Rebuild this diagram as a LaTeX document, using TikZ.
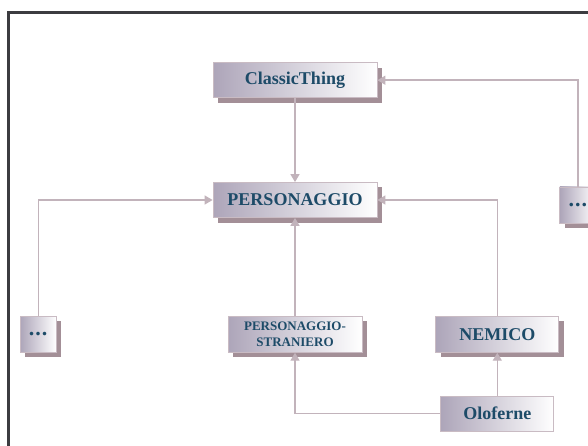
\documentclass[tikz,border=0pt]{standalone}
\usepackage{fontspec}
\setmainfont{Liberation Serif}
\usetikzlibrary{positioning, arrows.meta, shadows}
\definecolor{colFrame}{HTML}{3C3C40}
\definecolor{colBoxLeft}{HTML}{ADA5B9}
\definecolor{colBoxEdge}{HTML}{C9BBC3}
\definecolor{colShadow}{HTML}{A38F97}
\definecolor{colLink}{HTML}{C2B3BB}
\definecolor{colText}{HTML}{1D4B68}

\begin{document}
\begin{tikzpicture}[
    x=1pt, y=1pt,
    >={Triangle[length=8pt, width=9pt]},
    node distance=40pt,
    cls/.style={draw=colBoxEdge, line width=0.8pt, left color=colBoxLeft, right color=white,
                inner sep=0pt, minimum height=36pt, align=center, text=colText,
                font=\fontsize{18}{20}\selectfont\bfseries},
    shadowed/.style={cls, drop shadow={shadow xshift=5pt, shadow yshift=-5pt,
                     fill=colShadow, opacity=1}},
    dots/.style={shadowed, minimum width=36pt, font=\fontsize{22}{22}\selectfont\bfseries},
    link/.style={->, draw=colLink, line width=1.4pt},
]
\clip (0,0) rectangle (588,-446);

% ---- Frame -------------------------------------------------------------------
\draw[colFrame, line width=2.5pt] (8.5,-450) -- (8.5,-12.5) -- (600,-12.5);

% ---- Classes -----------------------------------------------------------------
\node[shadowed, minimum width=164pt, minimum height=35pt] (pers) at (295,-200) {PERSONAGGIO};
\node[shadowed, minimum width=164pt, minimum height=35pt, above=84pt of pers] (classic) {ClassicThing};
\node[shadowed, minimum width=134pt, below=98pt of pers,
      font=\fontsize{13}{16}\selectfont\bfseries] (straniero) {PERSONAGGIO-\\STRANIERO};
\node[dots, left=171pt of straniero] (ldots) {.\kern1pt.\kern1pt.};
\node[shadowed, minimum width=123pt, right=73pt of straniero] (nemico) {NEMICO};
\node[cls, minimum width=113pt, minimum height=35pt, below=43pt of nemico] (oloferne) {Oloferne};
\node[dots, right=182pt of pers, yshift=-5pt] (rdots) {.\kern1pt.\kern1pt.};

% ---- Generalisations ---------------------------------------------------------
\draw[link] (classic) -- (pers);
\draw[link] (rdots.north) |- (classic.east);
\draw[link] (ldots.north) |- (pers.west);
\draw[link] (nemico.north) |- (pers.east);
\draw[link] (straniero) -- (pers);
\draw[link] (oloferne) -- (nemico);
\draw[link] (oloferne.west) -| (straniero.south);

\end{tikzpicture}
\end{document}
